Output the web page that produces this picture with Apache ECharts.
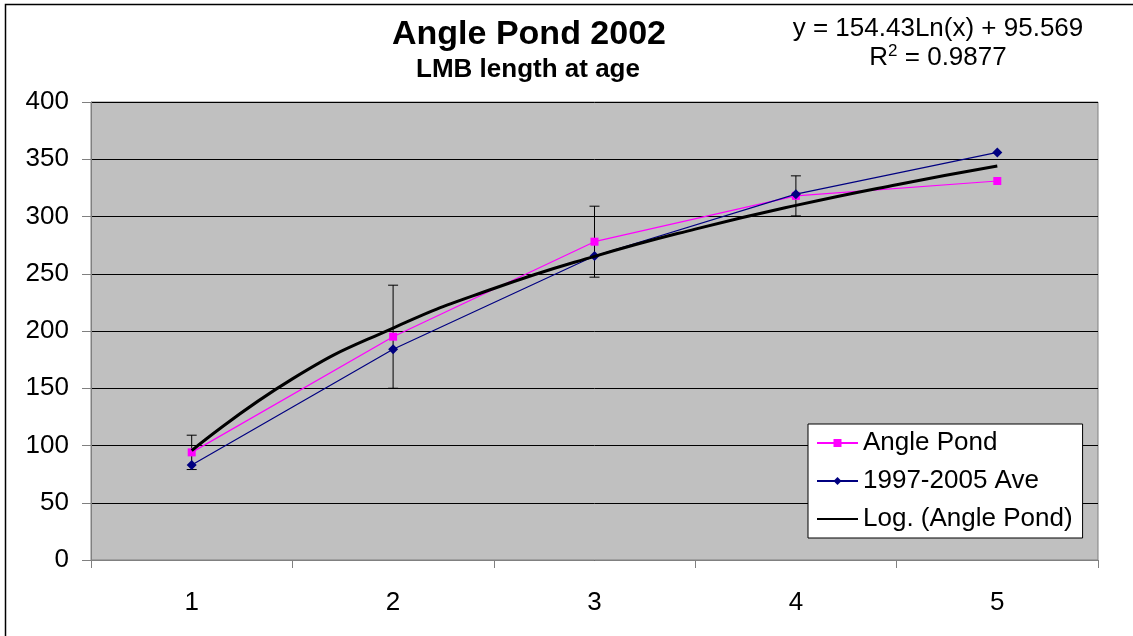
<!DOCTYPE html>
<html>
<head>
<meta charset="utf-8">
<script src="https://cdn.jsdelivr.net/npm/echarts@6/dist/echarts.min.js"></script>
<style>
html,body{margin:0;padding:0;background:#fff;}
#chart{width:1133px;height:636px;}
</style>
</head>
<body>
<div id="chart"></div>
<script>
// ---- data ----
const ages = ['1', '2', '3', '4', '5'];
const anglePond = [94, 195, 278, 318, 331];
const anglePondErr = [15, 45, 31, 17.5, 0];
const ave19972005 = [83, 184, 265.5, 319.5, 356];
// logarithmic trend line (Angle Pond)
const trendX = [1, 1.5, 2, 2.5, 3, 3.5, 4, 4.5, 5];
const trendY = [95.6, 158.2, 202.6, 237.1, 265.2, 289.0, 309.7, 327.8, 344.1];
const yMin = 0, yMax = 400, yStep = 50;
const titleText = 'Angle Pond 2002';
const subtitleText = 'LMB length at age';
const eqLine1 = 'y = 154.43Ln(x) + 95.569';
const eqR2 = '0.9877';

const FONT = '"Liberation Sans", Arial, sans-serif';

const errData = ages.map((a, i) => [i, anglePond[i] - anglePondErr[i], anglePond[i] + anglePondErr[i]])
  .filter((d, i) => anglePondErr[i] > 0);
const trendData = trendX.map((x, i) => [x, trendY[i]]);

const chart = echarts.init(document.getElementById('chart'), null, {renderer: 'canvas'});
chart.setOption({
  animation: false,
  backgroundColor: '#ffffff',
  textStyle: {fontFamily: FONT},
  grid: {
    left: 91, top: 102, right: 35, bottom: 76,
    show: true, backgroundColor: '#C0C0C0', borderColor: '#808080', borderWidth: 1
  },
  xAxis: [
    {
      type: 'category', data: ages, boundaryGap: true,
      axisLine: {show: true, lineStyle: {color: '#808080', width: 1}},
      axisTick: {show: true, length: 8, lineStyle: {color: '#808080'}},
      axisLabel: {color: '#000', fontSize: 26, margin: 30, fontFamily: FONT},
      splitLine: {show: false}
    },
    {type: 'value', min: 0.5, max: 5.5, show: false}
  ],
  yAxis: {
    type: 'value', min: yMin, max: yMax, interval: yStep,
    axisLine: {show: true, lineStyle: {color: '#808080', width: 1}},
    axisTick: {show: true, length: 9, lineStyle: {color: '#808080'}},
    axisLabel: {color: '#000', fontSize: 26, margin: 22, fontFamily: FONT},
    splitLine: {show: true, lineStyle: {color: '#000', width: 1}}
  },
  legend: {
    orient: 'vertical', left: 808, top: 424,
    padding: [6, 10, 6, 8], itemGap: 12, itemWidth: 41, itemHeight: 10,
    backgroundColor: '#ffffff', borderColor: '#000', borderWidth: 1,
    textStyle: {fontSize: 26, color: '#000', fontFamily: FONT},
    data: ['Angle Pond', '1997-2005 Ave', 'Log. (Angle Pond)']
  },
  series: [
    {
      name: 'Angle Pond err', type: 'custom', xAxisIndex: 0,
      data: errData, encode: {x: 0, y: [1, 2]}, z: 2, silent: true,
      renderItem: function (params, api) {
        const lo = api.coord([api.value(0), api.value(1)]);
        const hi = api.coord([api.value(0), api.value(2)]);
        const w = 5;
        const st = {stroke: '#000', lineWidth: 1};
        return {
          type: 'group', children: [
            {type: 'line', shape: {x1: hi[0], y1: hi[1], x2: lo[0], y2: lo[1]}, style: st},
            {type: 'line', shape: {x1: hi[0] - w, y1: hi[1], x2: hi[0] + w, y2: hi[1]}, style: st},
            {type: 'line', shape: {x1: lo[0] - w, y1: lo[1], x2: lo[0] + w, y2: lo[1]}, style: st}
          ]
        };
      }
    },
    {
      name: 'Angle Pond', type: 'line', xAxisIndex: 0, data: anglePond, z: 3,
      symbol: 'rect', symbolSize: 8, showSymbol: true,
      lineStyle: {color: '#FF00FF', width: 1.2},
      itemStyle: {color: '#FF00FF'}
    },
    {
      name: '1997-2005 Ave', type: 'line', xAxisIndex: 0, data: ave19972005, z: 4,
      symbol: 'diamond', symbolSize: 10, showSymbol: true,
      lineStyle: {color: '#000080', width: 1.2},
      itemStyle: {color: '#000080'}
    },
    {
      name: 'Log. (Angle Pond)', type: 'line', xAxisIndex: 1, data: trendData, z: 5,
      smooth: true, symbol: 'line', showSymbol: false,
      lineStyle: {color: '#000', width: 3},
      itemStyle: {color: '#000'}
    }
  ],
  graphic: [
    {type: 'rect', shape: {x: 5.5, y: 4.5, width: 1200, height: 700}, style: {fill: 'none', stroke: '#000', lineWidth: 1.5}, z: 100, silent: true},
    {type: 'text', x: 529, y: 35, style: {text: titleText, align: 'center', verticalAlign: 'middle', font: 'bold 34px ' + FONT, fill: '#000'}},
    {type: 'text', x: 528, y: 70, style: {text: subtitleText, align: 'center', verticalAlign: 'middle', font: 'bold 26px ' + FONT, fill: '#000'}},
    {type: 'text', x: 938, y: 29, style: {text: eqLine1, align: 'center', verticalAlign: 'middle', font: '26px ' + FONT, fill: '#000'}},
    {type: 'text', x: 938, y: 58, style: {
      text: 'R{sup|2} = ' + eqR2, align: 'center', verticalAlign: 'middle', font: '26px ' + FONT, fill: '#000',
      rich: {sup: {fontSize: 17, fontFamily: FONT, verticalAlign: 'top', padding: [0, 0, 14, 0]}}
    }}
  ]
});
</script>
</body>
</html>
